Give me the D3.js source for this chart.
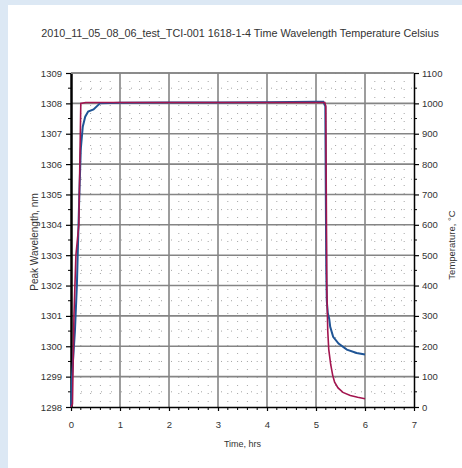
<!DOCTYPE html>
<html>
<head>
<meta charset="utf-8">
<script src="https://cdn.jsdelivr.net/npm/d3@7"></script>
<style>
  html, body { margin: 0; padding: 0; background: #dce8f4; }
  #chart { width: 462px; height: 468px; }
  text { font-family: "Liberation Sans", Arial, sans-serif; fill: #333; }
</style>
</head>
<body>
<div id="chart"></div>
<script>
// chart data
const chartTitle = "2010_11_05_08_06_test_TCI-001 1618-1-4 Time Wavelength Temperature Celsius";

// wavelength series (hrs, nm)
const wlTime  = [0.00, 0.02, 0.04, 0.08, 0.12, 0.17, 0.20, 0.24, 0.29, 0.35, 0.46, 0.59, 1.0, 2.0, 3.0, 4.0, 5.0, 5.15, 5.19, 5.20, 5.21, 5.22, 5.24, 5.27, 5.29, 5.35, 5.46, 5.63, 5.83, 6.00];
const wlValue = [1298.0, 1299.0, 1299.5, 1300.5, 1302.0, 1305.0, 1306.5, 1307.23, 1307.56, 1307.73, 1307.8, 1308.0, 1308.02, 1308.03, 1308.03, 1308.04, 1308.05, 1308.05, 1307.9, 1305.0, 1302.5, 1301.5, 1301.1, 1300.9, 1300.64, 1300.31, 1300.09, 1299.89, 1299.78, 1299.73];

// temperature series (hrs, degC)
const tcTime  = [0.00, 0.03, 0.06, 0.10, 0.16, 0.20, 0.30, 1.0, 2.0, 3.0, 4.0, 5.0, 5.18, 5.20, 5.21, 5.22, 5.24, 5.26, 5.30, 5.34, 5.38, 5.45, 5.55, 5.70, 5.85, 6.00];
const tcValue = [0, 10, 300, 500, 600, 1000, 1003, 1003, 1003, 1003, 1003, 1003, 1003, 990, 700, 400, 250, 190, 140, 105, 82, 63, 48, 38, 32, 27];

const xTicks = [0, 1, 2, 3, 4, 5, 6, 7];
const wlTicks = [1298, 1299, 1300, 1301, 1302, 1303, 1304, 1305, 1306, 1307, 1308, 1309];
const tcTicks = [0, 100, 200, 300, 400, 500, 600, 700, 800, 900, 1000, 1100];

const W = 462, H = 468;
const plot = { left: 71, right: 414, top: 73, bottom: 407 };

const svg = d3.select("#chart").append("svg")
    .attr("width", W).attr("height", H);

// white panel inside the blue frame
svg.append("rect")
    .attr("x", 8).attr("y", 5).attr("width", W - 8).attr("height", H - 5)
    .attr("fill", "#fff");

const x = d3.scaleLinear().domain([0, 7]).range([plot.left, plot.right]);
const yL = d3.scaleLinear().domain([1298, 1309]).range([plot.bottom, plot.top]);
const yR = d3.scaleLinear().domain([0, 1100]).range([plot.bottom, plot.top]);

const minorX = d3.range(0, 35).map(i => i / 5).filter(v => v % 1 !== 0);

// minor dotted grid
const grid = svg.append("g");
grid.selectAll(".vmin")
    .data(minorX)
    .enter().append("line")
        .attr("x1", d => x(d)).attr("x2", d => x(d))
        .attr("y1", plot.top).attr("y2", plot.bottom)
        .attr("stroke", "#a5a5a5").attr("stroke-width", 1)
        .attr("stroke-dasharray", "1,7");
grid.selectAll(".hmin")
    .data(wlTicks.slice(0, -1).map(v => v + 0.5))
    .enter().append("line")
        .attr("x1", plot.left).attr("x2", plot.right)
        .attr("y1", d => yL(d)).attr("y2", d => yL(d))
        .attr("stroke", "#a5a5a5").attr("stroke-width", 1)
        .attr("stroke-dasharray", "1,9");

// major grid
grid.selectAll(".vmaj")
    .data(xTicks.slice(1, -1))
    .enter().append("line")
        .attr("x1", d => x(d)).attr("x2", d => x(d))
        .attr("y1", plot.top).attr("y2", plot.bottom)
        .attr("stroke", "#858585").attr("stroke-width", 1.6);
grid.selectAll(".hmaj")
    .data(wlTicks.slice(1))
    .enter().append("line")
        .attr("x1", plot.left).attr("x2", plot.right)
        .attr("y1", d => yL(d)).attr("y2", d => yL(d))
        .attr("stroke", "#858585").attr("stroke-width", 1.6);

// axes
function styleAxis(g, width){
    g.select(".domain").attr("stroke", "#000").attr("stroke-width", width);
    g.selectAll(".tick line").attr("stroke", "#000").attr("stroke-width", 1.2);
    g.selectAll(".tick text").attr("font-size", 9.5).attr("fill", "#444")
        .attr("font-family", "Liberation Sans, Arial, sans-serif");
}

const xAxis = svg.append("g").attr("transform", `translate(0,${plot.bottom})`)
    .call(d3.axisBottom(x).tickValues(xTicks).tickFormat(d3.format("d")).tickSize(4).tickSizeOuter(0).tickPadding(10));
styleAxis(xAxis, 1.5);
xAxis.append("g").selectAll("line")
    .data(minorX)
    .enter().append("line")
        .attr("x1", d => x(d)).attr("x2", d => x(d))
        .attr("y1", 0).attr("y2", 3)
        .attr("stroke", "#000").attr("stroke-width", 1);

const leftAxis = svg.append("g").attr("transform", `translate(${plot.left},0)`)
    .call(d3.axisLeft(yL).tickValues(wlTicks).tickFormat(d3.format("d")).tickSize(5).tickSizeOuter(0).tickPadding(4));
styleAxis(leftAxis, 2.5);
leftAxis.append("g").selectAll("line")
    .data(wlTicks.slice(0, -1).map(v => v + 0.5))
    .enter().append("line")
        .attr("x1", -3).attr("x2", 0)
        .attr("y1", d => yL(d)).attr("y2", d => yL(d))
        .attr("stroke", "#000").attr("stroke-width", 1);

const rightAxis = svg.append("g").attr("transform", `translate(${plot.right},0)`)
    .call(d3.axisRight(yR).tickValues(tcTicks).tickFormat(d3.format("d")).tickSize(5).tickSizeOuter(0).tickPadding(3));
styleAxis(rightAxis, 1.5);
rightAxis.append("g").selectAll("line")
    .data(tcTicks.slice(0, -1).map(v => v + 50))
    .enter().append("line")
        .attr("x1", 0).attr("x2", 3)
        .attr("y1", d => yR(d)).attr("y2", d => yR(d))
        .attr("stroke", "#000").attr("stroke-width", 1);

// top border of plot
svg.append("line")
    .attr("x1", plot.left).attr("x2", plot.right)
    .attr("y1", plot.top).attr("y2", plot.top)
    .attr("stroke", "#858585").attr("stroke-width", 1.6);

// series
const tempLine = d3.line().x(d => x(d[0])).y(d => yR(d[1]));
const wlLine = d3.line().x(d => x(d[0])).y(d => yL(d[1]));

svg.append("path")
    .datum(wlTime.map((t, i) => [t, wlValue[i]]))
    .attr("d", wlLine)
    .attr("fill", "none").attr("stroke", "#1f5596").attr("stroke-width", 2);

svg.append("path")
    .datum(tcTime.map((t, i) => [t, tcValue[i]]))
    .attr("d", tempLine)
    .attr("fill", "none").attr("stroke", "#a3154f").attr("stroke-width", 1.6);

// texts
svg.append("text")
    .attr("x", 240).attr("y", 37)
    .attr("text-anchor", "middle").attr("font-size", 10.8).attr("fill", "#333")
    .text(chartTitle);

svg.append("text")
    .attr("x", x(3.5)).attr("y", 447)
    .attr("text-anchor", "middle").attr("font-size", 9).attr("fill", "#333")
    .text("Time, hrs");

svg.append("text")
    .attr("transform", `translate(38,242) rotate(-90)`)
    .attr("text-anchor", "middle").attr("font-size", 10).attr("fill", "#222")
    .text("Peak Wavelength, nm");

svg.append("text")
    .attr("transform", `translate(455,245) rotate(-90)`)
    .attr("text-anchor", "middle").attr("font-size", 9.5).attr("fill", "#333")
    .text("Temperature, \u00B0C");
</script>
</body>
</html>
